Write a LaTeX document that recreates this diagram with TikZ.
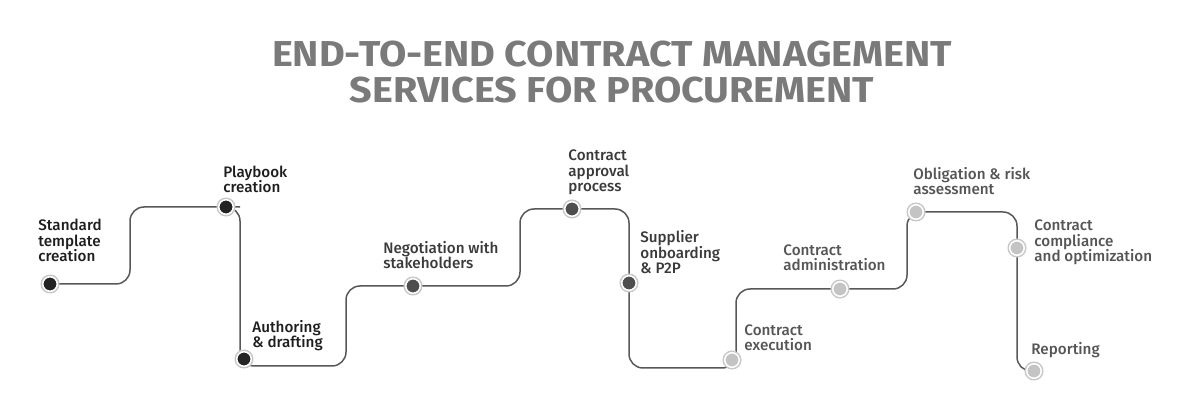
\documentclass[tikz,border=0pt]{standalone}
\usepackage{fontspec}
\setmainfont{Fira Sans}
\newfontfamily\titlefont[FakeStretch=1.1]{Fira Sans}
\newfontfamily\lblfont{Fira Sans Medium}
\usepackage{tikz}
\usetikzlibrary{positioning,calc}
\definecolor{stepDark}{RGB}{36,36,36}
\definecolor{stepMid}{RGB}{78,78,78}
\definecolor{stepLight}{RGB}{196,196,196}
\definecolor{txtDark}{RGB}{30,30,30}
\definecolor{txtMid}{RGB}{58,58,58}
\definecolor{txtLight}{RGB}{85,85,85}
\definecolor{ringGray}{RGB}{200,200,200}
\definecolor{titleGray}{RGB}{122,122,122}
\definecolor{routeGray}{RGB}{88,88,88}

\begin{document}
\begin{tikzpicture}[x=0.5pt, y=-0.5pt,
    dot/.style={circle, inner sep=0pt, minimum size=7.25pt, draw=white,
      line width=0.75pt, preaction={draw=ringGray, line width=2.25pt}},
    lbl/.style={anchor=base west, inner sep=0pt, align=left,
      font=\lblfont\fontsize{7.6}{7.75}\selectfont},
    route/.style={draw=routeGray, line width=0.75pt, rounded corners=7pt}
  ]
  \useasboundingbox (0,0) rectangle (1200,400);
  \node[font=\titlefont\bfseries\fontsize{18}{18}\selectfont, text=titleGray,
    align=center, anchor=base, inner sep=0pt] (title) at (612,103)
    {END-TO-END CONTRACT MANAGEMENT\\SERVICES FOR PROCUREMENT};

  % step positions
  \coordinate (s1) at (50,284);
  \coordinate (s2) at (226,207);
  \coordinate (s3) at (244,359);
  \coordinate (s4) at (413,286);
  \coordinate (s5) at (572,209);
  \coordinate (s6) at (629,283);
  \coordinate (s7) at (732,360);
  \coordinate (s8) at (840,289);
  \coordinate (s9) at (916,212);
  \coordinate (s10) at (1017,248);
  \coordinate (s11) at (1034,371);

  \draw[route] (s1) -| (130,207) -- (s2) -| (240,366) -- (346,366) |- (s4)
    -| (520,209) -- (s5) -| (629,368) -- (736,368) |- (s8)
    -| (907,212) -| (1017,371) -- (s11);

  \node[dot, fill=stepDark] (d1) at (s1) {};
  \node[dot, fill=stepDark] (d2) at (s2) {};
  \node[dot, fill=stepDark] (d3) at (s3) {};
  \node[dot, fill=stepMid] (d4) at (s4) {};
  \node[dot, fill=stepMid] (d5) at (s5) {};
  \node[dot, fill=stepMid] (d6) at (s6) {};
  \node[dot, fill=stepLight] (d7) at (s7) {};
  \node[dot, fill=stepLight] (d8) at (s8) {};
  \node[dot, fill=stepLight] (d9) at (s9) {};
  \node[dot, fill=stepLight] (d10) at (s10) {};
  \node[dot, fill=stepLight] (d11) at (s11) {};

  % labels, placed by the baseline of their last line
  \node[lbl, text=txtDark] (l1) at (38,262) {Standard\\template\\creation};
  \node[lbl, text=txtDark] (l2) at (223,193) {Playbook\\creation};
  \node[lbl, text=txtDark] (l3) at (252,348) {Authoring\\\& drafting};
  \node[lbl, text=txtMid] (l4) at (383,269) {Negotiation with\\stakeholders};
  \node[lbl, text=txtMid] (l5) at (568,192) {Contract\\approval\\process};
  \node[lbl, text=txtMid] (l6) at (640,274) {Supplier\\onboarding\\\& P2P};
  \node[lbl, text=txtLight] (l7) at (744,351) {Contract\\execution};
  \node[lbl, text=txtLight] (l8) at (783,271) {Contract\\administration};
  \node[lbl, text=txtLight] (l9) at (913,195) {Obligation \& risk\\assessment};
  \node[lbl, text=txtLight] (l10) at (1034,262) {Contract\\compliance\\and optimization};
  \node[lbl, text=txtLight] (l11) at (1031,355) {Reporting};
\end{tikzpicture}
\end{document}
